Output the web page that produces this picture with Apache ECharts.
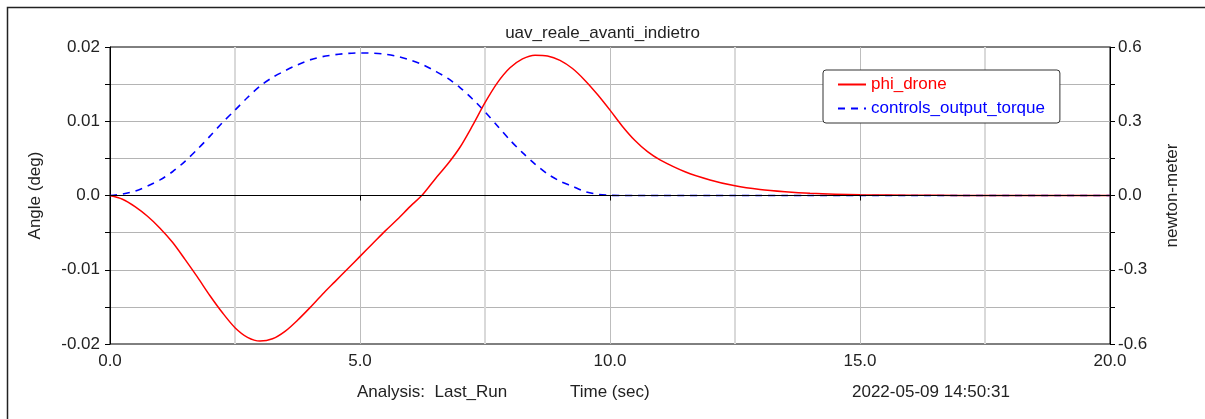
<!DOCTYPE html>
<html lang="en">
<head>
    <meta charset="UTF-8">
    <title>uav_reale_avanti_indietro</title>
    <script src="https://cdn.jsdelivr.net/npm/echarts@6/dist/echarts.min.js"></script>
    <style>
        body {
            margin: 0;
            padding: 0;
            background-color: #ffffff;
            overflow: hidden;
        }
        #chart {
            width: 1205px;
            height: 419px;
        }
    </style>
</head>
<body>
<div id="chart"></div>

<script>
    // time samples (sec) shared by both series
    const timeSec = [0, 0.25, 0.5, 0.75, 1, 1.25, 1.5, 1.75, 2, 2.25, 2.5, 2.75, 3, 3.25, 3.5, 3.75,
        4, 4.25, 4.5, 4.75, 5, 5.25, 5.5, 5.75, 6, 6.25, 6.5, 6.75, 7, 7.25, 7.5, 7.75,
        8, 8.25, 8.5, 8.75, 9, 9.25, 9.5, 9.75, 10, 10.25, 10.5, 10.75, 11,
        11.5, 12, 12.5, 13, 13.5, 14, 15, 16, 17, 18, 19, 20];

    // phi_drone (deg), left axis
    const phiDrone = [0, -0.0005, -0.0015, -0.0028, -0.0044, -0.0063, -0.0086, -0.0110, -0.0135, -0.0158,
        -0.0178, -0.0191, -0.0196, -0.0193, -0.0183, -0.0168,
        -0.0151, -0.0133, -0.0116, -0.0099, -0.0082, -0.0065, -0.0048, -0.0032, -0.0015, 0.0001,
        0.0022, 0.0042, 0.0065, 0.0094, 0.0125, 0.0152,
        0.0172, 0.0184, 0.0189, 0.0188, 0.0182, 0.0171, 0.0155, 0.0136, 0.0115, 0.0093, 0.0074, 0.0059, 0.0048,
        0.0032, 0.0021, 0.0013, 0.0008, 0.0005, 0.0003, 0.0001, 0.00004, 0.00001, 0, 0, 0];

    // controls_output_torque (newton-meter), right axis
    const outputTorque = [0, 0.006, 0.018, 0.038, 0.063, 0.096, 0.138, 0.187, 0.240, 0.295,
        0.345, 0.396, 0.442, 0.477, 0.504, 0.528,
        0.548, 0.561, 0.569, 0.574, 0.576, 0.575, 0.571, 0.562, 0.548, 0.529,
        0.503, 0.474, 0.436, 0.390, 0.338, 0.281,
        0.224, 0.173, 0.127, 0.087, 0.058, 0.037, 0.016, 0.005, 0.001, 0, 0, 0, 0,
        0, 0, 0, 0, 0, 0, 0, 0, 0, 0, 0, 0];

    const seriesNames = ['phi_drone', 'controls_output_torque'];
    const seriesColors = ['#ff0000', '#0000ff'];

    const FONT = "'Liberation Sans', Arial, sans-serif";
    const TXT = '#222';

    const chart = echarts.init(document.getElementById('chart'));

    const fmt = (digits) => (v) => (Math.abs(v) < 1e-9 ? '0.0' : v.toFixed(digits));

    chart.setOption({
        animation: false,
        textStyle: { fontFamily: FONT },
        title: {
            text: 'uav_reale_avanti_indietro',
            left: 'center',
            top: 20,
            textStyle: { fontFamily: FONT, fontSize: 17, fontWeight: 'normal', color: TXT }
        },
        legend: {
            orient: 'vertical',
            left: 823,
            top: 70,
            padding: [6, 15, 6, 14],
            itemWidth: 28,
            itemHeight: 14,
            itemGap: 7,
            backgroundColor: '#fff',
            borderColor: '#333',
            borderWidth: 1,
            borderRadius: 3,
            itemStyle: { opacity: 0 },
            data: seriesNames.map((n, i) => ({
                name: n,
                textStyle: { color: seriesColors[i], fontFamily: FONT, fontSize: 17 }
            }))
        },
        grid: {
            left: 110,
            top: 47,
            width: 1000,
            height: 297,
            show: true,
            borderColor: '#000',
            borderWidth: 1
        },
        xAxis: {
            type: 'value',
            min: 0,
            max: 20,
            interval: 5,
            axisLine: { lineStyle: { color: '#000', width: 1 } },
            axisTick: { show: true, length: 5, lineStyle: { color: '#000' } },
            axisLabel: { margin: 9, fontSize: 17, color: TXT, fontFamily: FONT, formatter: (v) => v.toFixed(1) },
            splitLine: { show: true, lineStyle: { color: '#bdbdbd', width: 1 } },
            minorTick: { show: false, splitNumber: 2 },
            minorSplitLine: { show: true, lineStyle: { color: '#d9d9d9', width: 2 } }
        },
        yAxis: [
            {
                type: 'value',
                min: -0.02,
                max: 0.02,
                interval: 0.01,
                name: 'Angle (deg)',
                nameLocation: 'middle',
                nameGap: 66,
                nameRotate: 90,
                nameTextStyle: { fontSize: 17, color: TXT, fontFamily: FONT },
                axisLine: { show: true, lineStyle: { color: '#000', width: 1 } },
                axisTick: { show: true, length: 5, lineStyle: { color: '#000' } },
                minorTick: { show: true, splitNumber: 2, length: 5, lineStyle: { color: '#000' } },
                axisLabel: { margin: 10, fontSize: 17, color: TXT, fontFamily: FONT, formatter: fmt(2) },
                splitLine: { show: true, showMinLine: false, showMaxLine: false, lineStyle: { color: '#b4b4b4', width: 1 } },
                minorSplitLine: { show: true, lineStyle: { color: '#b4b4b4', width: 1 } }
            },
            {
                type: 'value',
                min: -0.6,
                max: 0.6,
                interval: 0.3,
                position: 'right',
                name: 'newton-meter',
                nameLocation: 'middle',
                nameGap: 54,
                nameRotate: 90,
                nameTextStyle: { fontSize: 17, color: TXT, fontFamily: FONT },
                axisLine: { show: true, lineStyle: { color: '#000', width: 1 } },
                axisTick: { show: true, length: 5, lineStyle: { color: '#000' } },
                minorTick: { show: true, splitNumber: 2, length: 5, lineStyle: { color: '#000' } },
                axisLabel: { margin: 8, fontSize: 17, color: TXT, fontFamily: FONT, formatter: fmt(1) },
                splitLine: { show: false },
                minorSplitLine: { show: false }
            }
        ],
        graphic: [
            {
                type: 'rect',
                shape: { x: 7.5, y: 7.5, width: 1300, height: 500 },
                style: { fill: 'none', stroke: '#222', lineWidth: 1.5 },
                silent: true
            },
            {
                type: 'text', left: 357, top: 384,
                style: { text: 'Analysis:  Last_Run', font: '17px ' + FONT, fill: TXT }
            },
            {
                type: 'text', left: 570, top: 384,
                style: { text: 'Time (sec)', font: '17px ' + FONT, fill: TXT }
            },
            {
                type: 'text', left: 852, top: 384,
                style: { text: '2022-05-09 14:50:31', font: '17px ' + FONT, fill: TXT }
            }
        ],
        series: [
            {
                name: seriesNames[1],
                type: 'line',
                yAxisIndex: 1,
                symbol: 'none',
                smooth: 0.3,
                z: 3,
                lineStyle: { color: seriesColors[1], width: 1.6, type: [7, 6] },
                itemStyle: { color: seriesColors[1] },
                data: timeSec.map((t, i) => [t, outputTorque[i]]),
                markLine: {
                    silent: true,
                    symbol: 'none',
                    label: { show: false },
                    lineStyle: { color: '#000', width: 1, type: 'solid' },
                    data: [{ yAxis: 0 }]
                }
            },
            {
                name: seriesNames[0],
                type: 'line',
                yAxisIndex: 0,
                symbol: 'none',
                smooth: 0.3,
                z: 4,
                lineStyle: { color: seriesColors[0], width: 1.5 },
                itemStyle: { color: seriesColors[0] },
                data: timeSec.map((t, i) => [t, phiDrone[i]])
            }
        ]
    });
</script>
</body>
</html>
